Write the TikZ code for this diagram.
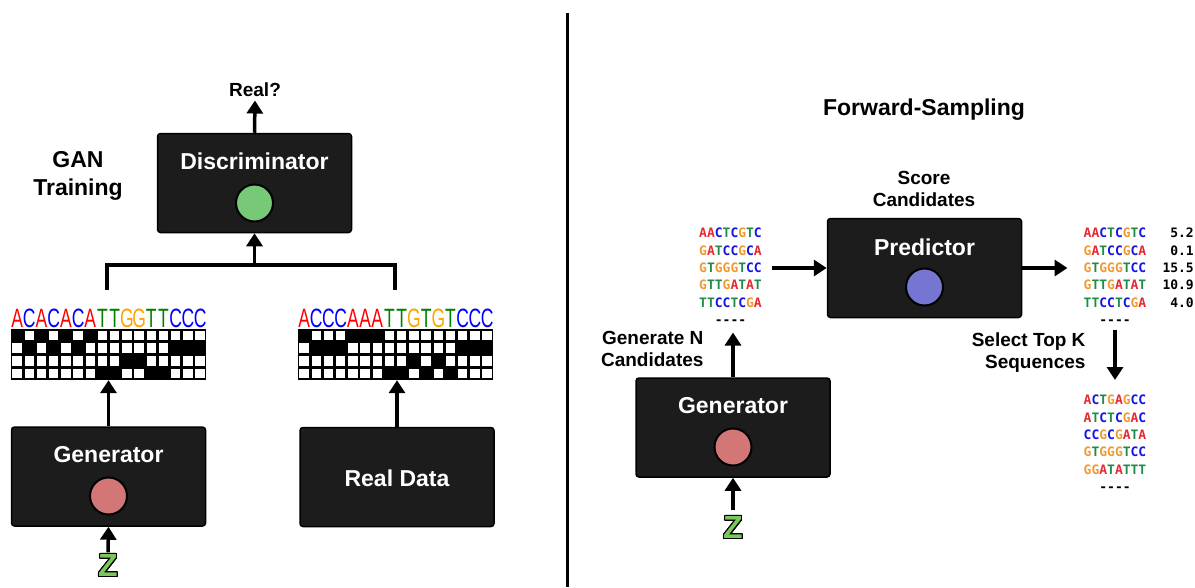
\documentclass[tikz,border=0pt]{standalone}
\usepackage{fontspec}
\setmainfont{Liberation Sans}
\setmonofont{DejaVu Sans Mono}
\usepackage{contour}
\usetikzlibrary{arrows.meta}
\definecolor{boxgray}{RGB}{28,28,28}
\definecolor{discgreen}{RGB}{119,201,119}
\definecolor{genred}{RGB}{210,118,118}
\definecolor{predblue}{RGB}{118,118,210}
\definecolor{zgreen}{RGB}{122,200,92}
\definecolor{ntA}{RGB}{230,40,50}
\definecolor{ntC}{RGB}{20,20,230}
\definecolor{ntG}{RGB}{240,155,50}
\definecolor{ntT}{RGB}{30,140,70}
\definecolor{logoA}{RGB}{255,0,0}
\definecolor{logoC}{RGB}{0,0,255}
\definecolor{logoG}{RGB}{255,165,0}
\definecolor{logoT}{RGB}{0,128,0}
\contourlength{1pt}
\contournumber{32}
\newcommand\dna[1]{\dnaloop#1\relax}
\def\dnaloop#1{\ifx#1\relax\else\textcolor{nt#1}{#1}\expandafter\dnaloop\fi}

\begin{document}
\begin{tikzpicture}[x=1pt, y=1pt,
  netbox/.style={draw=black, line width=1.5pt, fill=boxgray, rounded corners=3pt, minimum width=194pt, minimum height=99pt},
  boxlabel/.style={text=white, font=\fontsize{23}{27}\selectfont\bfseries},
  unit/.style={circle, draw=black, line width=2pt, minimum size=37pt, inner sep=0pt},
  tag/.style={font=\fontsize{19}{22}\selectfont\bfseries, align=center},
  title/.style={font=\fontsize{23}{28}\selectfont\bfseries, align=center},
  arr/.style={line width=3.5pt, -{Triangle[width=16pt,length=13pt]}},
  wire/.style={line width=3.5pt},
  seqs/.style={font=\fontsize{13}{17.3}\selectfont\ttfamily\bfseries, align=center, inner sep=0pt, anchor=north},
  logo/.style={font=\fontsize{26.5}{30}\selectfont, xscale=0.66, anchor=base, inner sep=0pt},
  onehot/.style={fill=black, minimum width=195pt, minimum height=51pt, inner sep=0pt},
  zvar/.style={font=\fontsize{32}{32}\selectfont\bfseries, text=zgreen, inner sep=0pt}]
\useasboundingbox (0,0) rectangle (1195,-587);
\draw[line width=3pt] (567,-13) -- (567,-587);

\node[title] (ganT) at (78,-176) {GAN\\Training};
\node[netbox] (disc) at (254.5,-183) {};
\node[boxlabel] (discT) at (254.5,-161) {Discriminator};
\node[unit, fill=discgreen] (discU) at (254.5,-203) {};
\node[tag] (realQ) at (255,-90) {Real?};

\foreach \gx/\gname/\gseq in {11/gridG/{A,C,A,C,A,C,A,T,T,G,G,T,T,C,C,C}, 298/gridR/{A,C,C,C,A,A,A,T,T,G,T,G,T,C,C,C}} {
  \node[onehot] (\gname) at (\gx+97.5,-354.5) {};
  \foreach \nt [count=\i] in \gseq {
    \node[logo, text=logo\nt] at ({\gx+12.2*\i-6.1},-327) {\nt};
    \foreach \base [count=\j] in {A,C,G,T} {
      \if\nt\base\else\fill[white] ({\gx+12.2*\i-6.1-4.7},{-329-12.75*\j+6.375-4.7}) rectangle +(9.4,9.4);\fi
    }
  }
}

\node[netbox] (genL) at (108.5,-476.5) {};
\node[boxlabel] (genLT) at (108.5,-455) {Generator};
\node[unit, fill=genred] (genLU) at (108.5,-496) {};
\node[netbox] (real) at (397,-477) {};
\node[boxlabel] (realT) at (397,-478) {Real Data};
\node[zvar] (zL) at (108,-566) {\contour{black}{Z}};

\coordinate (tG) at (107,-290);
\coordinate (tR) at (395,-290);
\coordinate (barG) at (107,-265);
\coordinate (barR) at (395,-265);
\draw[wire] (tG) -- (barG) -- (barR) -- (tR);
\draw[arr] (disc.south |- barG) -- (disc.south);
\draw[arr] (disc.north) -- (realQ.south);
\draw[arr] (genL.north) -- (genL.north |- gridG.south);
\draw[arr] (real.north) -- (real.north |- gridR.south);
\draw[arr, shorten <=2pt] (zL.north) -- (genL.south);

\node[title] (fsT) at (924,-110) {Forward-Sampling};
\node[tag] (scoreT) at (924,-189) {Score\\Candidates};
\node[netbox] (pred) at (924.5,-268) {};
\node[boxlabel] (predT) at (924.5,-247) {Predictor};
\node[unit, fill=predblue] (predU) at (924.5,-287) {};
\node[seqs] (candL) at (730.5,-228) {\dna{AACTCGTC}\\\dna{GATCCGCA}\\\dna{GTGGGTCC}\\\dna{GTTGATAT}\\\dna{TTCCTCGA}\\{-}{-}{-}{-}};
\node[seqs] (scoredL) at (1115,-228) {\dna{AACTCGTC}\\\dna{GATCCGCA}\\\dna{GTGGGTCC}\\\dna{GTTGATAT}\\\dna{TTCCTCGA}\\{-}{-}{-}{-}};
\node[seqs, anchor=north east, align=right] (scoreV) at (1194,-228) {5.2\\0.1\\15.5\\10.9\\4.0};
\node[seqs] (topK) at (1115,-395) {\dna{ACTGAGCC}\\\dna{ATCTCGAC}\\\dna{CCGCGATA}\\\dna{GTGGGTCC}\\\dna{GGATATTT}\\{-}{-}{-}{-}};
\node[tag, align=right, anchor=east] (genN) at (707,-348.5) {Generate N\\Candidates};
\node[tag, align=right, anchor=east] (selK) at (1089,-353) {Select Top K\\Sequences};
\node[netbox] (genR) at (733,-427.5) {};
\node[boxlabel] (genRT) at (733,-406) {Generator};
\node[unit, fill=genred] (genRU) at (733,-447) {};
\node[zvar] (zR) at (733,-528) {\contour{black}{Z}};

\draw[arr, shorten <=6pt] (zR.north) -- (genR.south);
\draw[arr, shorten >=8pt] (genR.north) -- (genR.north |- candL.south);
\draw[arr, shorten <=10pt] (candL.east |- pred.west) -- (pred.west);
\draw[arr, shorten >=16pt] (pred.east) -- (scoredL.west |- pred.east);
\draw[arr, shorten <=5pt, shorten >=15pt] (scoredL.south) -- (topK.north);
\end{tikzpicture}
\end{document}
